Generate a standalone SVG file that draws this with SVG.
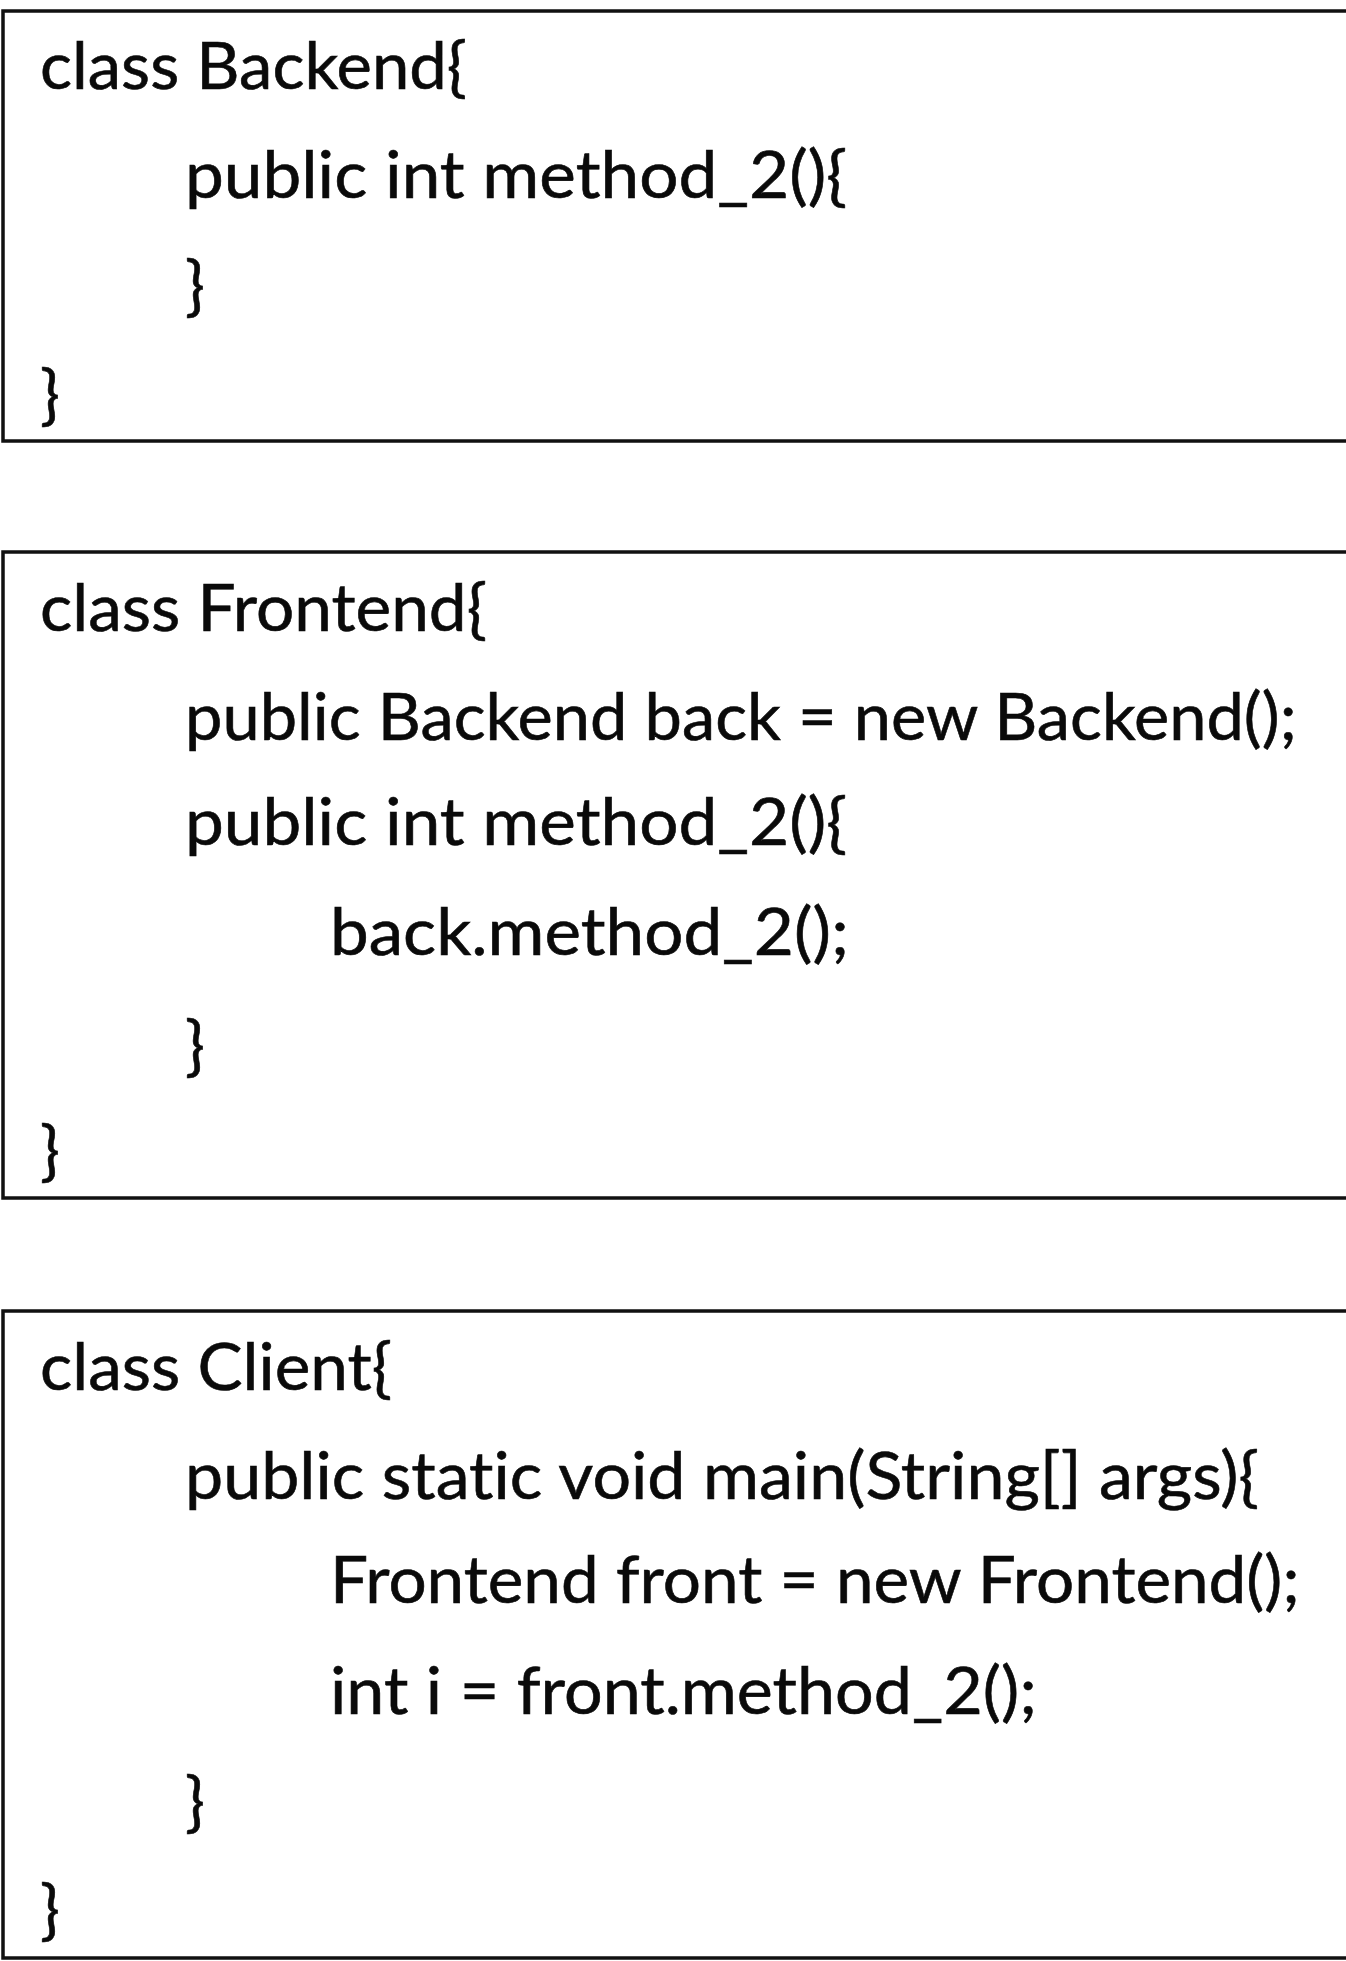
<svg xmlns="http://www.w3.org/2000/svg" width="1346" height="1961" viewBox="0 0 1346 1961">
<style>
.box{fill:#fff;stroke:#111;stroke-width:3.5}
.code{font-family:Lato,"Open Sans","Liberation Sans",sans-serif;font-size:66px;fill:#0a0a0a;stroke:#0a0a0a;stroke-width:0.6;font-variant-ligatures:none;font-feature-settings:"liga" 0}
</style>
<rect x="0" y="0" width="1346" height="1961" fill="#fff"/>
<g id="backend">
<rect class="box" x="3" y="11" width="1400" height="430"/>
<text class="code" x="40" y="89" textLength="427" lengthAdjust="spacingAndGlyphs">class Backend{</text>
<text class="code" x="185" y="198" textLength="662" lengthAdjust="spacingAndGlyphs">public int method_2(){</text>
<text class="code" x="185" y="308">}</text>
<text class="code" x="40" y="417">}</text>
</g>
<g id="frontend">
<rect class="box" x="3" y="552" width="1400" height="646"/>
<text class="code" x="40" y="631" textLength="447" lengthAdjust="spacingAndGlyphs">class Frontend{</text>
<text class="code" x="185" y="740" textLength="1112" lengthAdjust="spacingAndGlyphs">public Backend back = new Backend();</text>
<text class="code" x="185" y="845" textLength="662" lengthAdjust="spacingAndGlyphs">public int method_2(){</text>
<text class="code" x="330" y="955" textLength="519" lengthAdjust="spacingAndGlyphs">back.method_2();</text>
<text class="code" x="185" y="1068">}</text>
<text class="code" x="40" y="1173">}</text>
</g>
<g id="client">
<rect class="box" x="3" y="1311" width="1400" height="647"/>
<text class="code" x="40" y="1390" textLength="352" lengthAdjust="spacingAndGlyphs">class Client{</text>
<text class="code" x="185" y="1499" textLength="1074" lengthAdjust="spacingAndGlyphs">public static void main(String[] args){</text>
<text class="code" x="330" y="1603" textLength="970" lengthAdjust="spacingAndGlyphs">Frontend front = new Frontend();</text>
<text class="code" x="330" y="1714" textLength="707" lengthAdjust="spacingAndGlyphs">int i = front.method_2();</text>
<text class="code" x="185" y="1824">}</text>
<text class="code" x="40" y="1932">}</text>
</g>
</svg>
